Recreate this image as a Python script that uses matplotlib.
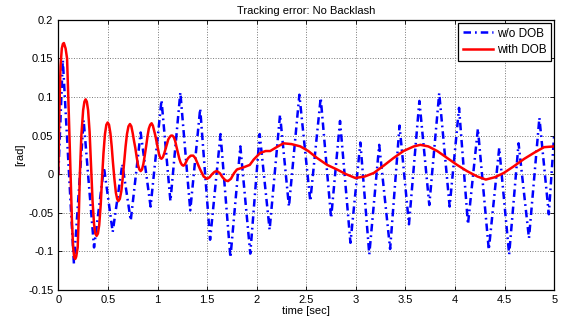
import matplotlib
matplotlib.use('Agg')
import matplotlib.pyplot as plt
from matplotlib.ticker import FormatStrFormatter

# values
t_nodob = [0, 0.045, 0.157, 0.255, 0.36, 0.46, 0.548, 0.645, 0.73, 0.83, 0.93,
           1.04, 1.13, 1.23, 1.33, 1.43, 1.53, 1.635, 1.735, 1.835, 1.935,
           2.03, 2.13, 2.235, 2.325, 2.43, 2.54, 2.645, 2.75, 2.84, 2.945,
           3.045, 3.135, 3.235, 3.345, 3.44, 3.535, 3.64, 3.74, 3.84, 3.945,
           4.04, 4.13, 4.23, 4.34, 4.445, 4.545, 4.64, 4.745, 4.85, 4.945, 5.0]
e_nodob = [0, 0.148, -0.116, 0.07, -0.095, 0.009, -0.075, 0.013, -0.06, 0.054, -0.042,
           0.096, -0.035, 0.106, -0.047, 0.085, -0.085, 0.052, -0.108, 0.036, -0.103,
           0.052, -0.072, 0.077, -0.042, 0.103, -0.035, 0.099, -0.057, 0.069, -0.089,
           0.041, -0.104, 0.038, -0.097, 0.063, -0.065, 0.095, -0.040, 0.105, -0.042,
           0.086, -0.065, 0.059, -0.098, 0.034, -0.104, 0.040, -0.083, 0.073, -0.052, 0.053]

t_dob = [0, 0.01, 0.022, 0.035, 0.046, 0.056, 0.073, 0.088, 0.105, 0.123,
         0.137, 0.149, 0.16, 0.17, 0.18, 0.195, 0.207, 0.217, 0.232, 0.25,
         0.263, 0.275, 0.287, 0.3, 0.315, 0.33, 0.345, 0.36, 0.373, 0.386,
         0.399, 0.412, 0.427, 0.44, 0.455, 0.47, 0.484, 0.497, 0.511, 0.525,
         0.538, 0.55, 0.565, 0.58, 0.593, 0.605, 0.62, 0.635, 0.65, 0.663,
         0.678, 0.692, 0.707, 0.722, 0.736, 0.75, 0.763, 0.776, 0.79, 0.803,
         0.817, 0.83, 0.843, 0.857, 0.871, 0.885, 0.9, 0.912, 0.926, 0.94,
         0.953, 0.965, 0.978, 0.99, 1.003, 1.015, 1.028, 1.04, 1.054, 1.068,
         1.082, 1.095, 1.108, 1.122, 1.136, 1.15, 1.164, 1.178, 1.19, 1.205,
         1.22, 1.233, 1.247, 1.26, 1.272, 1.285, 1.3, 1.31, 1.335, 1.36,
         1.38, 1.40, 1.43, 1.465, 1.50, 1.525, 1.55, 1.575, 1.60, 1.63,
         1.655, 1.685, 1.71, 1.74, 1.77, 1.80, 1.87, 1.93, 1.97, 2.035,
         2.09, 2.136, 2.2, 2.27, 2.35, 2.44, 2.52, 2.608, 2.71, 2.81,
         2.9, 2.995, 3.09, 3.18, 3.28, 3.38, 3.48, 3.584, 3.65, 3.73,
         3.82, 3.92, 4.02, 4.12, 4.224, 4.31, 4.4, 4.49, 4.59, 4.695,
         4.8, 4.897, 5.0]
e_dob = [0, 0.08, 0.14, 0.163, 0.169, 0.170, 0.163, 0.15, 0.08, 0.0,
         -0.06, -0.095, -0.108, -0.11, -0.107, -0.095, -0.05, 0.0, 0.05, 0.083,
         0.094, 0.097, 0.094, 0.083, 0.055, 0.01, -0.035, -0.065, -0.077, -0.08,
         -0.077, -0.066, -0.04, -0.007, 0.027, 0.052, 0.064, 0.067, 0.064, 0.053,
         0.036, 0.016, -0.006, -0.024, -0.032, -0.035, -0.032, -0.022, -0.004, 0.015,
         0.036, 0.052, 0.062, 0.065, 0.062, 0.053, 0.043, 0.034, 0.022, 0.012,
         0.006, 0.004, 0.006, 0.013, 0.024, 0.036, 0.05, 0.059, 0.064, 0.066,
         0.063, 0.057, 0.05, 0.042, 0.033, 0.026, 0.021, 0.020, 0.022, 0.027,
         0.033, 0.039, 0.045, 0.048, 0.05, 0.050, 0.048, 0.043, 0.036, 0.028,
         0.02, 0.015, 0.012, 0.011, 0.012, 0.015, 0.019, 0.021, 0.024, 0.024,
         0.021, 0.015, 0.006, -0.003, -0.006, -0.004, 0.0, 0.003, 0.004, 0.001,
         -0.004, -0.008, -0.009, -0.006, 0.001, 0.006, 0.009, 0.012, 0.019, 0.0275,
         0.030, 0.030, 0.035, 0.040, 0.039, 0.036, 0.030, 0.021, 0.012, 0.006,
         0.0, -0.005, -0.003, 0.0015, 0.011, 0.021, 0.030, 0.036, 0.038, 0.036,
         0.030, 0.021, 0.012, 0.004, -0.003, -0.007, -0.004, 0.0015, 0.010, 0.0197,
         0.028, 0.035, 0.036]

xticks = [0, 0.5, 1, 1.5, 2, 2.5, 3, 3.5, 4, 4.5, 5]
yticks = [-0.15, -0.1, -0.05, 0, 0.05, 0.1, 0.15, 0.2]

plt.rcParams['font.family'] = ['Liberation Sans', 'DejaVu Sans']
plt.rcParams['font.size'] = 8

fig = plt.figure(figsize=(5.61, 3.21), dpi=100)
ax = fig.add_axes([0.104, 0.097, 0.884, 0.841])
ax.plot(t_nodob, e_nodob, color='#0000ff', linestyle=(0, (3, 1.6, 0.7, 1.6)),
        linewidth=1.8, label='w/o DOB')
ax.plot(t_dob, e_dob, color='#ff0000', linestyle='-', linewidth=1.8, label='with DOB')

ax.set_xlim(0, 5)
ax.set_ylim(-0.15, 0.2)
ax.set_xticks(xticks)
ax.set_yticks(yticks)
ax.xaxis.set_major_formatter(FormatStrFormatter('%g'))
ax.yaxis.set_major_formatter(FormatStrFormatter('%g'))
ax.tick_params(direction='in', top=True, right=True, length=3, width=0.6)
ax.grid(True, linestyle=':', color='#777777', linewidth=0.7)
for s in ax.spines.values():
    s.set_linewidth(0.9)

ax.set_title('Tracking error: No Backlash', fontsize=8, pad=4)
ax.set_xlabel('time [sec]', labelpad=1)
ax.set_ylabel('[rad]', labelpad=2)

leg = ax.legend(loc='upper right', fancybox=False, framealpha=1, edgecolor='black',
                borderaxespad=0.25, handlelength=2.6, handletextpad=0.3,
                labelspacing=0.4, borderpad=0.4, fontsize=8.5)
leg.get_frame().set_linewidth(0.9)

fig.savefig('out.png', dpi=100)
